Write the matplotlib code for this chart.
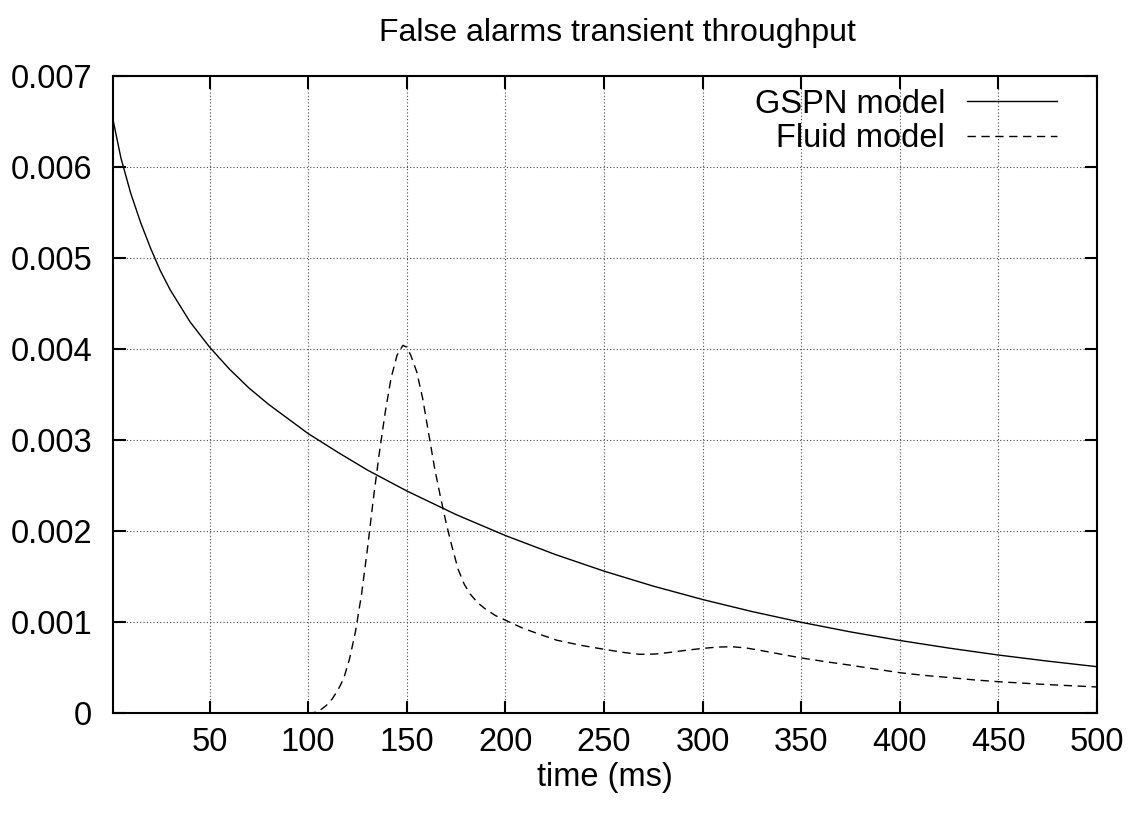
import numpy as np
import matplotlib
matplotlib.use('Agg')
import matplotlib.pyplot as plt

plt.rcParams['font.family'] = ['Liberation Sans', 'DejaVu Sans']

# --- values (y in units of 0.001) ---
gspn_t = [1, 5, 10, 15, 20, 25, 30, 40, 50, 60, 70, 80, 90, 100, 115, 130, 150, 175,
          200, 225, 250, 275, 300, 325, 350, 375, 400, 425, 450, 475, 500]
gspn_y = [6.52, 6.10, 5.71, 5.39, 5.11, 4.86, 4.65, 4.30, 4.02, 3.78, 3.57, 3.39, 3.23, 3.07,
          2.865, 2.67, 2.44, 2.18, 1.95, 1.744, 1.559, 1.394, 1.247, 1.115, 0.997, 0.891,
          0.797, 0.713, 0.637, 0.570, 0.509]

fluid_t = [1, 100, 103, 106, 109, 112, 115, 118, 121, 124, 127, 130, 133, 136, 139, 142,
           145, 148, 150, 152, 155, 158, 161, 164, 167, 170, 173, 176, 179, 182, 186, 190,
           195, 200, 209, 218, 226, 238, 250, 260, 268, 276, 283, 292, 300, 308, 315, 322,
           330, 340, 350, 362, 375, 387, 400, 412, 425, 437, 450, 475, 500]
fluid_y = [0, 0, 0.005, 0.03, 0.08, 0.15, 0.25, 0.38, 0.60, 0.90, 1.30, 1.80, 2.35, 2.85,
           3.30, 3.68, 3.93, 4.04, 4.02, 3.93, 3.75, 3.46, 3.08, 2.70, 2.38, 2.08, 1.82, 1.58,
           1.42, 1.31, 1.21, 1.14, 1.07, 1.02, 0.93, 0.86, 0.80, 0.745, 0.70, 0.665, 0.645,
           0.648, 0.665, 0.69, 0.71, 0.725, 0.728, 0.715, 0.685, 0.645, 0.605, 0.565, 0.525,
           0.485, 0.443, 0.414, 0.39, 0.365, 0.344, 0.312, 0.286]

xticks = [50, 100, 150, 200, 250, 300, 350, 400, 450, 500]
yticks = [0, 0.001, 0.002, 0.003, 0.004, 0.005, 0.006, 0.007]
ytick_labels = ['0', '0.001', '0.002', '0.003', '0.004', '0.005', '0.006', '0.007']

fig = plt.figure(figsize=(11.29, 8.13), dpi=100)
ax = fig.add_axes([0.1001, 0.123, 0.8716, 0.7835])

ax.plot(gspn_t, np.array(gspn_y) * 1e-3, color='black', lw=1.0, label='GSPN model')
ax.plot(fluid_t, np.array(fluid_y) * 1e-3, color='black', lw=1.0,
        dashes=(6, 4), label='Fluid model')

ax.set_xlim(1, 500)
ax.set_ylim(0, 0.007)
ax.set_xticks(xticks)
ax.set_xticklabels([str(v) for v in xticks])
ax.set_yticks(yticks)
ax.set_yticklabels(ytick_labels)

ax.grid(True, color='#444444', lw=0.8, linestyle=(0, (1, 2)))
ax.tick_params(direction='in', length=9, width=1.5, top=True, right=True, labelsize=23.5)
ax.tick_params(axis='x', pad=10)
ax.tick_params(axis='y', pad=15)
for s in ax.spines.values():
    s.set_linewidth(1.5)

ax.set_title('False alarms transient throughput', fontsize=23, pad=25, x=0.513)
ax.set_xlabel('time (ms)', fontsize=23.5, labelpad=3)

ax.legend(loc='upper right', bbox_to_anchor=(0.9593, 0.980), frameon=False,
          markerfirst=False, fontsize=23.5, handlelength=2.76, borderaxespad=0,
          borderpad=0, labelspacing=0.11, handletextpad=0.67)

fig.savefig('out.png', dpi=100)
